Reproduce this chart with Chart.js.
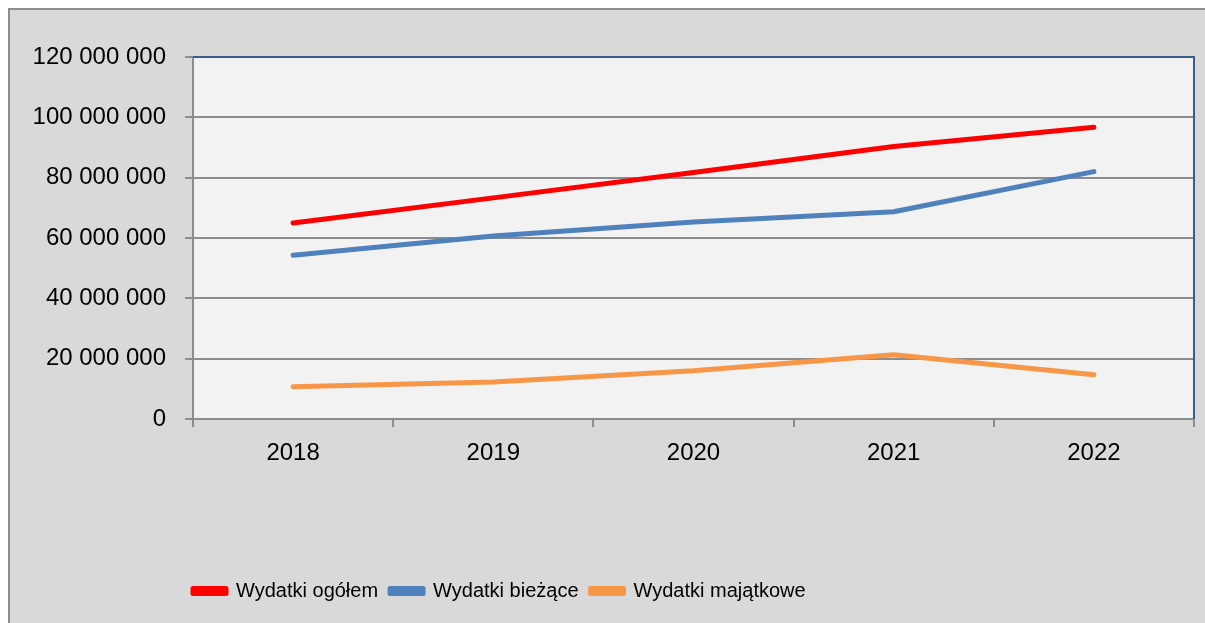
<!DOCTYPE html>
<html>
<head>
<meta charset="utf-8">
<script src="https://cdn.jsdelivr.net/npm/chart.js@4/dist/chart.umd.min.js"></script>
<style>
  html, body { margin: 0; padding: 0; background: #ffffff; overflow: hidden; }
  #frame {
    position: absolute; left: 8px; top: 8px;
    width: 1205px; height: 620px;
    border-left: 2px solid #8c8c8c; border-top: 2px solid #8c8c8c;
    background: #d9d9d9;
  }
  canvas { display: block; }
</style>
</head>
<body>
<div id="frame"><canvas id="chart" width="1195" height="613"></canvas></div>
<script>
// lata
const years = ["2018", "2019", "2020", "2021", "2022"];

// wartości (zł)
const wydatkiOgolem = [65000000, 73300000, 81700000, 90300000, 96700000];
const wydatkiBiezace = [54300000, 60700000, 65300000, 68700000, 82000000];
const wydatkiMajatkowe = [10700000, 12300000, 16000000, 21300000, 14700000];

const yTicks = [0, 20000000, 40000000, 60000000, 80000000, 100000000, 120000000];

const gridGray = '#8c8c8c';
const fmt = v => v.toString().replace(/\B(?=(\d{3})+(?!\d))/g, ' ');

// tło i ramka obszaru wykresu
const plotArea = {
  id: 'plotArea',
  beforeDraw(chart) {
    const { ctx, chartArea: a } = chart;
    ctx.save();
    ctx.fillStyle = '#f2f2f2';
    ctx.fillRect(a.left, a.top, a.right - a.left, a.bottom - a.top);
    ctx.restore();
  },
  afterDatasetsDraw(chart) {
    const { ctx, chartArea: a } = chart;
    ctx.save();
    ctx.strokeStyle = '#385d8a';
    ctx.lineWidth = 2;
    ctx.beginPath();
    ctx.moveTo(a.left, a.top);
    ctx.lineTo(a.right, a.top);
    ctx.lineTo(a.right, a.bottom);
    ctx.stroke();
    ctx.restore();
  },
  afterLayout(chart) {
    // legenda przesunięta w lewo jak w oryginale
    const lg = chart.legend;
    const w = lg.right - lg.left;
    lg.left = 171;
    lg.right = 171 + w;
  }
};

function line(label, data, color) {
  return {
    label, data,
    borderColor: color,
    backgroundColor: color,
    borderWidth: 5,
    borderCapStyle: 'round',
    borderJoinStyle: 'round',
    pointRadius: 0,
    tension: 0
  };
}

new Chart(document.getElementById('chart'), {
  type: 'line',
  data: {
    labels: years,
    datasets: [
      line('Wydatki ogółem', wydatkiOgolem, '#ff0000'),
      line('Wydatki bieżące', wydatkiBiezace, '#4f81bd'),
      line('Wydatki majątkowe', wydatkiMajatkowe, '#f79646')
    ]
  },
  options: {
    responsive: false,
    animation: false,
    layout: { padding: { top: 47, right: 11, left: 0, bottom: 12 } },
    plugins: {
      tooltip: { enabled: false },
      legend: {
        position: 'bottom',
        align: 'start',
        labels: {
          boxWidth: 33,
          boxHeight: 5,
          padding: 12,
          color: '#000000',
          font: { family: "'Liberation Sans', Arial, sans-serif", size: 20 }
        }
      }
    },
    scales: {
      x: {
        offset: true,
        afterFit: s => { s.height = 150; },
        grid: {
          offset: true,
          drawOnChartArea: false,
          drawTicks: true,
          tickLength: 8,
          color: gridGray,
          lineWidth: 2
        },
        border: { color: gridGray, width: 2 },
        ticks: {
          padding: 12,
          color: '#000000',
          font: { family: "'Liberation Sans', Arial, sans-serif", size: 24 }
        }
      },
      y: {
        min: 0,
        max: 120000000,
        afterFit: s => { s.width = 183; },
        afterBuildTicks: s => { s.ticks = yTicks.map(v => ({ value: v })); },
        grid: {
          color: gridGray,
          lineWidth: 2,
          tickLength: 8
        },
        border: { color: gridGray, width: 2 },
        ticks: {
          padding: 19,
          color: '#000000',
          callback: v => fmt(v),
          font: { family: "'Liberation Sans', Arial, sans-serif", size: 24 }
        }
      }
    }
  },
  plugins: [plotArea]
});
</script>
</body>
</html>
